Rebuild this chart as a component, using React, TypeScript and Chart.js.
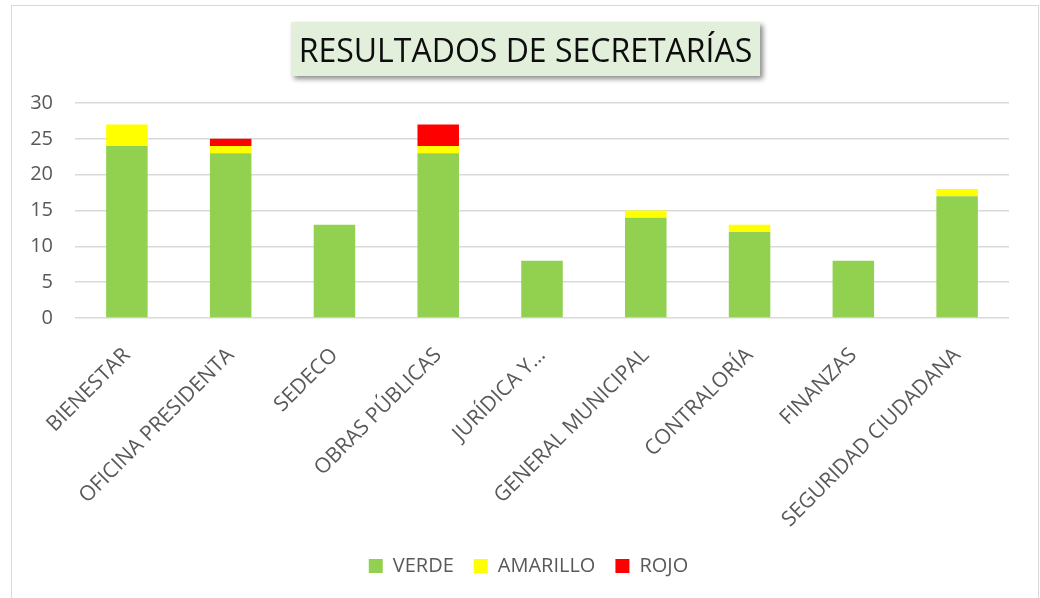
import React, { useEffect, useRef } from "react";
import { Chart, registerables } from "chart.js";

Chart.register(...registerables);

const categories = [
  "BIENESTAR",
  "OFICINA PRESIDENTA",
  "SEDECO",
  "OBRAS PÚBLICAS",
  "JURÍDICA Y…",
  "GENERAL MUNICIPAL",
  "CONTRALORÍA",
  "FINANZAS",
  "SEGURIDAD CIUDADANA",
];
const verde = [24, 23, 13, 23, 8, 14, 12, 8, 17];
const amarillo = [3, 1, 0, 1, 0, 1, 1, 0, 1];
const rojo = [0, 1, 0, 3, 0, 0, 0, 0, 0];
const yTicks = [0, 5, 10, 15, 20, 25, 30];
const title = "RESULTADOS DE SECRETARÍAS";

const FONT = "'Open Sans', sans-serif";
const TEXT = "#595959";

const legendShift = {
  id: "legendShift",
  afterLayout(chart: any) {
    const lg = chart.legend;
    if (lg) {
      lg.left += 24;
      lg.right += 24;
    }
  },
};

export default function App() {
  const ref = useRef<HTMLCanvasElement | null>(null);

  useEffect(() => {
    if (!ref.current) return;
    const chart = new Chart(ref.current, {
      type: "bar",
      data: {
        labels: categories,
        datasets: [
          { label: "VERDE", data: verde, backgroundColor: "#92d050" },
          { label: "AMARILLO", data: amarillo, backgroundColor: "#ffff00" },
          { label: "ROJO", data: rojo, backgroundColor: "#ff0000" },
        ],
      },
      plugins: [legendShift],
      options: {
        responsive: false,
        animation: false,
        datasets: { bar: { barPercentage: 0.4, categoryPercentage: 1 } } as any,
        layout: { padding: { left: 0, right: 31, top: 103, bottom: 12 } },
        plugins: {
          title: { display: false },
          tooltip: { enabled: false },
          legend: {
            position: "bottom",
            labels: {
              boxWidth: 14,
              boxHeight: 14,
              padding: 20,
              color: TEXT,
              font: { family: FONT, size: 20 },
            },
          },
        },
        scales: {
          x: {
            stacked: true,
            grid: { display: false },
            border: { display: false },
            ticks: {
              autoSkip: false,
              minRotation: 45,
              maxRotation: 45,
              padding: 17,
              color: TEXT,
              font: { family: FONT, size: 21 },
            },
            afterFit: (s: any) => {
              s.height = 218;
              s.paddingLeft = 0;
              s.paddingRight = 0;
            },
          },
          y: {
            stacked: true,
            min: 0,
            max: 30,
            afterBuildTicks: (s: any) => {
              s.ticks = yTicks.map((v) => ({ value: v }));
            },
            grid: { color: "#d9d9d9", lineWidth: 1.5, drawTicks: false },
            border: { display: false },
            ticks: {
              padding: 22,
              color: TEXT,
              font: { family: FONT, size: 20 },
            },
            afterFit: (s: any) => {
              s.width = 75;
            },
          },
        },
      },
    });
    return () => chart.destroy();
  }, []);

  return (
    <div
      style={{
        position: "fixed",
        left: 0,
        top: 0,
        width: 1040,
        height: 598,
        overflow: "hidden",
        background: "#fff",
      }}
    >
      <div
        style={{
          position: "absolute",
          left: 11,
          top: 5,
          width: 1026,
          height: 700,
          border: "1px solid #d9d9d9",
        }}
      />
      <canvas
        ref={ref}
        width={1040}
        height={598}
        style={{ position: "absolute", left: 0, top: 0, width: 1040, height: 598 }}
      />
      <div
        style={{
          position: "absolute",
          left: 291,
          top: 22,
          width: 469,
          height: 54,
          background: "#e2efda",
          boxShadow: "3px 3px 5px rgba(0,0,0,0.45)",
          display: "flex",
          alignItems: "center",
          justifyContent: "center",
          fontFamily: FONT,
          fontSize: 32,
          color: "#0d0d0d",
          whiteSpace: "nowrap",
        }}
      >
        {title}
      </div>
    </div>
  );
}
